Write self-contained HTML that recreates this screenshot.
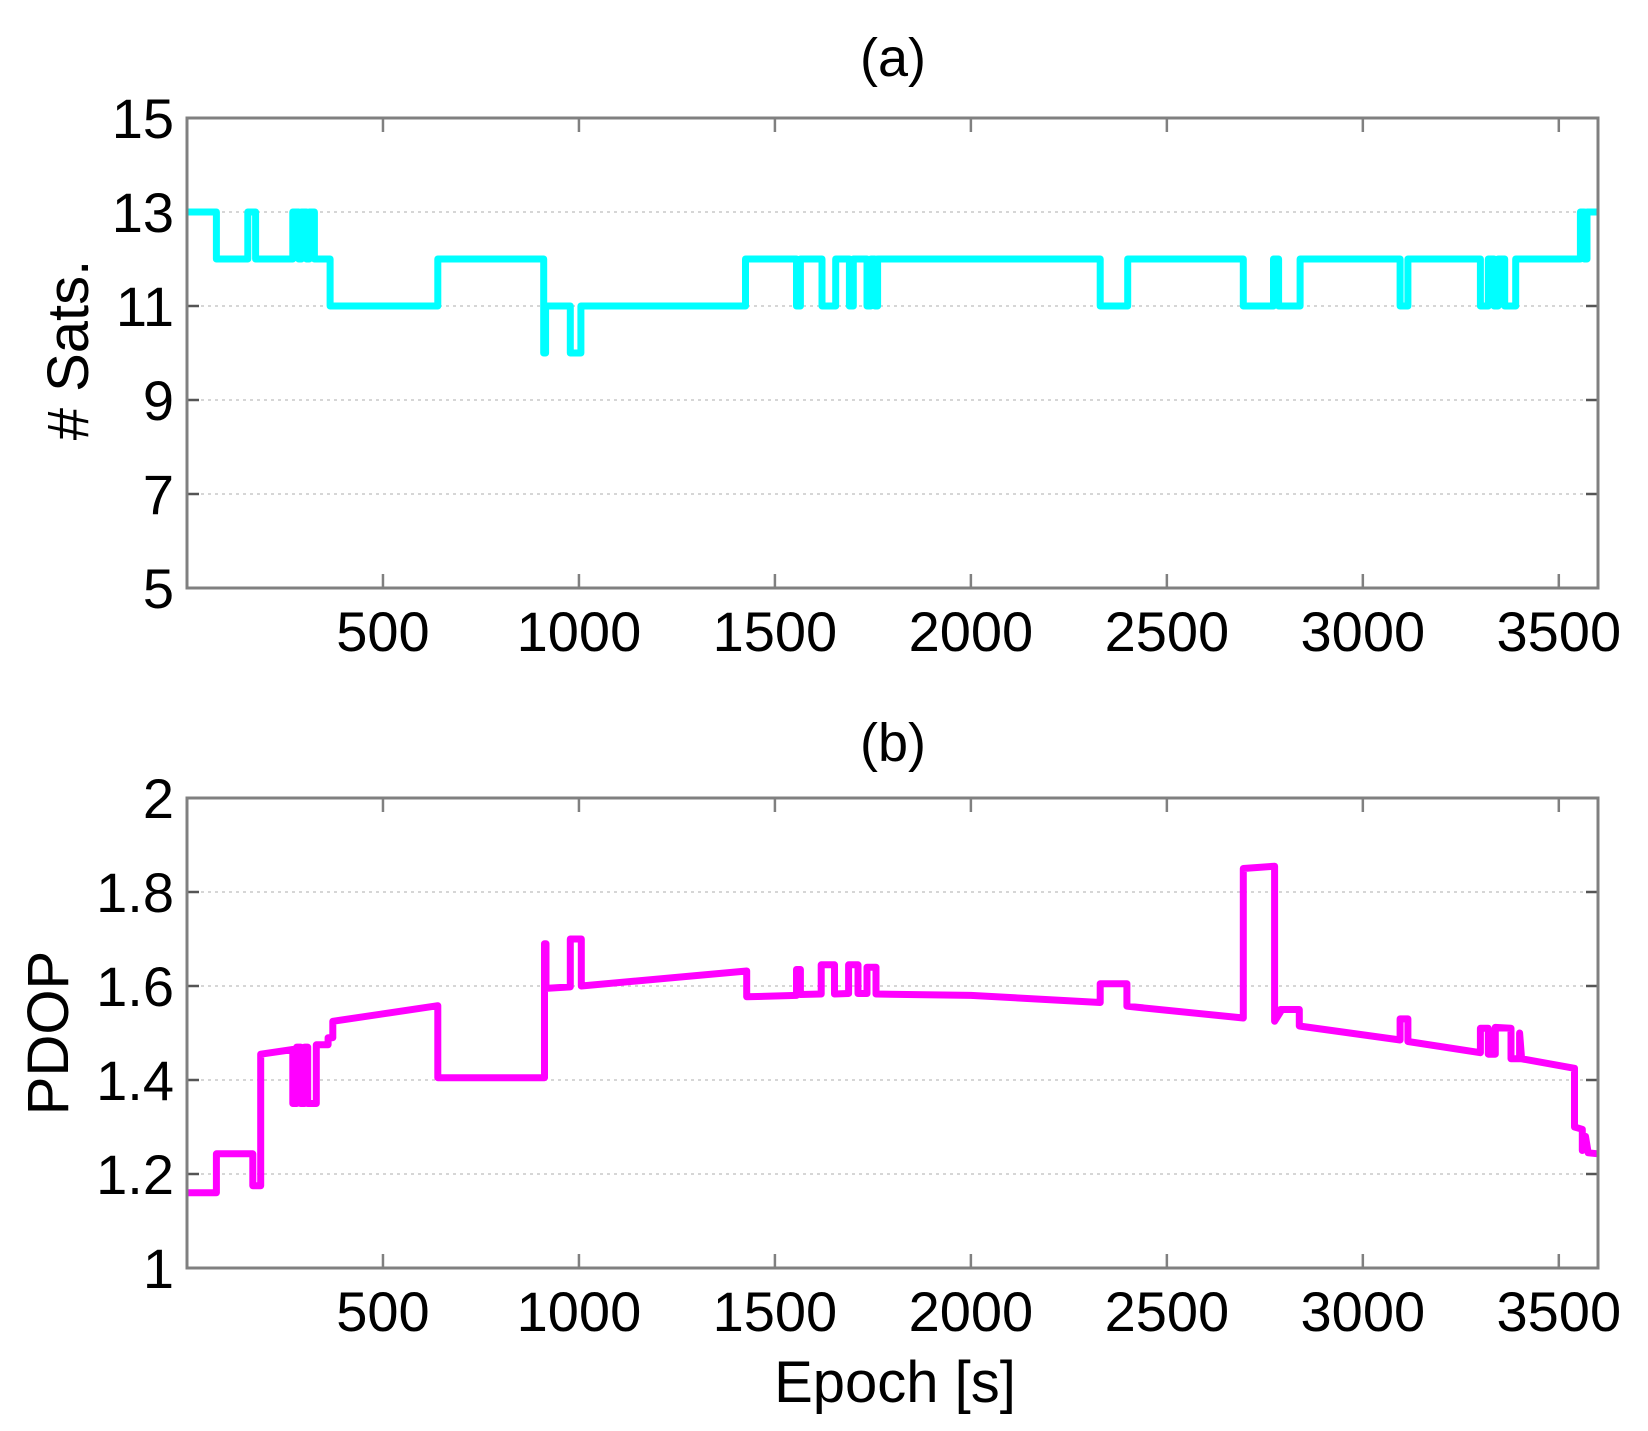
<!DOCTYPE html>
<html><head><meta charset="utf-8">
<style>
html,body{margin:0;padding:0;background:#fff;}
svg{display:block;font-family:"Liberation Sans",Arial,sans-serif;}
</style></head>
<body>
<svg id="s" width="1648" height="1431" viewBox="0 0 1648 1431" xmlns="http://www.w3.org/2000/svg">
<rect width="1648" height="1431" fill="#fff"/>
<text x="893" y="76" font-size="54" text-anchor="middle">(a)</text>
<text x="893" y="761" font-size="54" text-anchor="middle">(b)</text>
<text x="895" y="1402" font-size="58" text-anchor="middle">Epoch [s]</text>
<text transform="translate(88,350) rotate(-90)" font-size="58" text-anchor="middle"># Sats.</text>
<text transform="translate(68,1033) rotate(-90)" font-size="58" text-anchor="middle">PDOP</text>
<g id="g"></g>
</svg>
<script>
var NS="http://www.w3.org/2000/svg",g=document.getElementById('g');
function el(t,a,txt){var e=document.createElementNS(NS,t);for(var k in a)e.setAttribute(k,a[k]);if(txt!==undefined)e.textContent=txt;g.appendChild(e);return e;}
var L=187,R=1598;
function X(t){return L+t*(R-L)/3600;}
function panel(top,bot,ymin,ymax,yt,ylab,data,col){
  function Y(v){return bot-(v-ymin)*(bot-top)/(ymax-ymin);}
  yt.forEach(function(v,i){var y=Y(v);
    if(v!=ymin&&v!=ymax) el('line',{x1:L,x2:R,y1:y,y2:y,stroke:'#c8c8c8','stroke-width':1.5,'stroke-dasharray':'3,4'});
    el('line',{x1:L,x2:L+12,y1:y,y2:y,stroke:'#555','stroke-width':2.5});
    el('line',{x1:R-12,x2:R,y1:y,y2:y,stroke:'#555','stroke-width':2.5});
    el('text',{x:174,y:y+20,'font-size':56,'text-anchor':'end'},ylab[i]);
  });
  [500,1000,1500,2000,2500,3000,3500].forEach(function(t){var x=X(t);
    el('line',{x1:x,x2:x,y1:bot,y2:bot-14,stroke:'#808080','stroke-width':2.5});
    el('line',{x1:x,x2:x,y1:top,y2:top+14,stroke:'#808080','stroke-width':2.5});
    el('text',{x:x,y:bot+63,'font-size':56,'text-anchor':'middle'},String(t));
  });
  var d='';data.forEach(function(p,i){d+=(i?'L':'M')+X(p[0]).toFixed(1)+','+Y(p[1]).toFixed(1);});
  el('path',{d:d,fill:'none',stroke:col,'stroke-width':7,'stroke-linejoin':'round'});
  el('rect',{x:L,y:top,width:R-L,height:bot-top,fill:'none',stroke:'#808080','stroke-width':3});
}
function steps(a){var o=[];for(var i=0;i<a.length;i++){var t=a[i][0],v=a[i][1];if(i)o.push([t,a[i-1][1]]);o.push([t,v]);}return o;}
var sats=steps([[0,13],[75,12],[155,13],[175,12],[270,13],[285,12],[292,13],[305,12],[312,13],[325,12],[365,11],[640,12],[910,10],[915,11],[978,10],[1005,11],[1425,12],[1555,11],[1565,12],[1620,11],[1655,12],[1690,11],[1700,12],[1735,11],[1745,12],[1755,11],[1762,12],[2330,11],[2400,12],[2695,11],[2772,12],[2785,11],[2840,12],[3095,11],[3115,12],[3300,11],[3320,12],[3335,11],[3345,12],[3362,11],[3390,12],[3555,13],[3565,12],[3572,13],[3600,13]]);
panel(118,588,5,15,[5,7,9,11,13,15],['5','7','9','11','13','15'],sats,'#00ffff');
var pd=[[0,1.16],[75,1.16],[75,1.243],[168,1.243],[168,1.175],[188,1.175],[188,1.455],[270,1.465],[270,1.35],[280,1.35],[280,1.47],[290,1.47],[290,1.35],[300,1.35],[300,1.47],[308,1.47],[308,1.35],[330,1.35],[330,1.475],[360,1.475],[360,1.49],[372,1.49],[372,1.525],[640,1.558],[640,1.405],[912,1.405],[912,1.69],[916,1.69],[916,1.595],[978,1.598],[978,1.70],[1006,1.70],[1006,1.60],[1428,1.632],[1428,1.577],[1555,1.58],[1555,1.635],[1565,1.635],[1565,1.582],[1618,1.583],[1618,1.645],[1652,1.645],[1652,1.583],[1688,1.584],[1688,1.645],[1712,1.645],[1712,1.584],[1735,1.584],[1735,1.64],[1758,1.64],[1758,1.583],[2000,1.58],[2330,1.565],[2330,1.605],[2398,1.605],[2398,1.557],[2695,1.532],[2695,1.85],[2775,1.855],[2775,1.525],[2790,1.545],[2790,1.55],[2838,1.55],[2838,1.515],[3095,1.485],[3095,1.53],[3115,1.53],[3115,1.482],[3300,1.458],[3300,1.51],[3320,1.51],[3320,1.455],[3338,1.455],[3338,1.512],[3378,1.51],[3378,1.445],[3400,1.445],[3400,1.50],[3405,1.445],[3540,1.425],[3540,1.30],[3560,1.295],[3560,1.25],[3568,1.28],[3575,1.245],[3600,1.243]];
panel(798,1268,1,2,[1,1.2,1.4,1.6,1.8,2],['1','1.2','1.4','1.6','1.8','2'],pd,'#ff00ff');
</script>
</body></html>
